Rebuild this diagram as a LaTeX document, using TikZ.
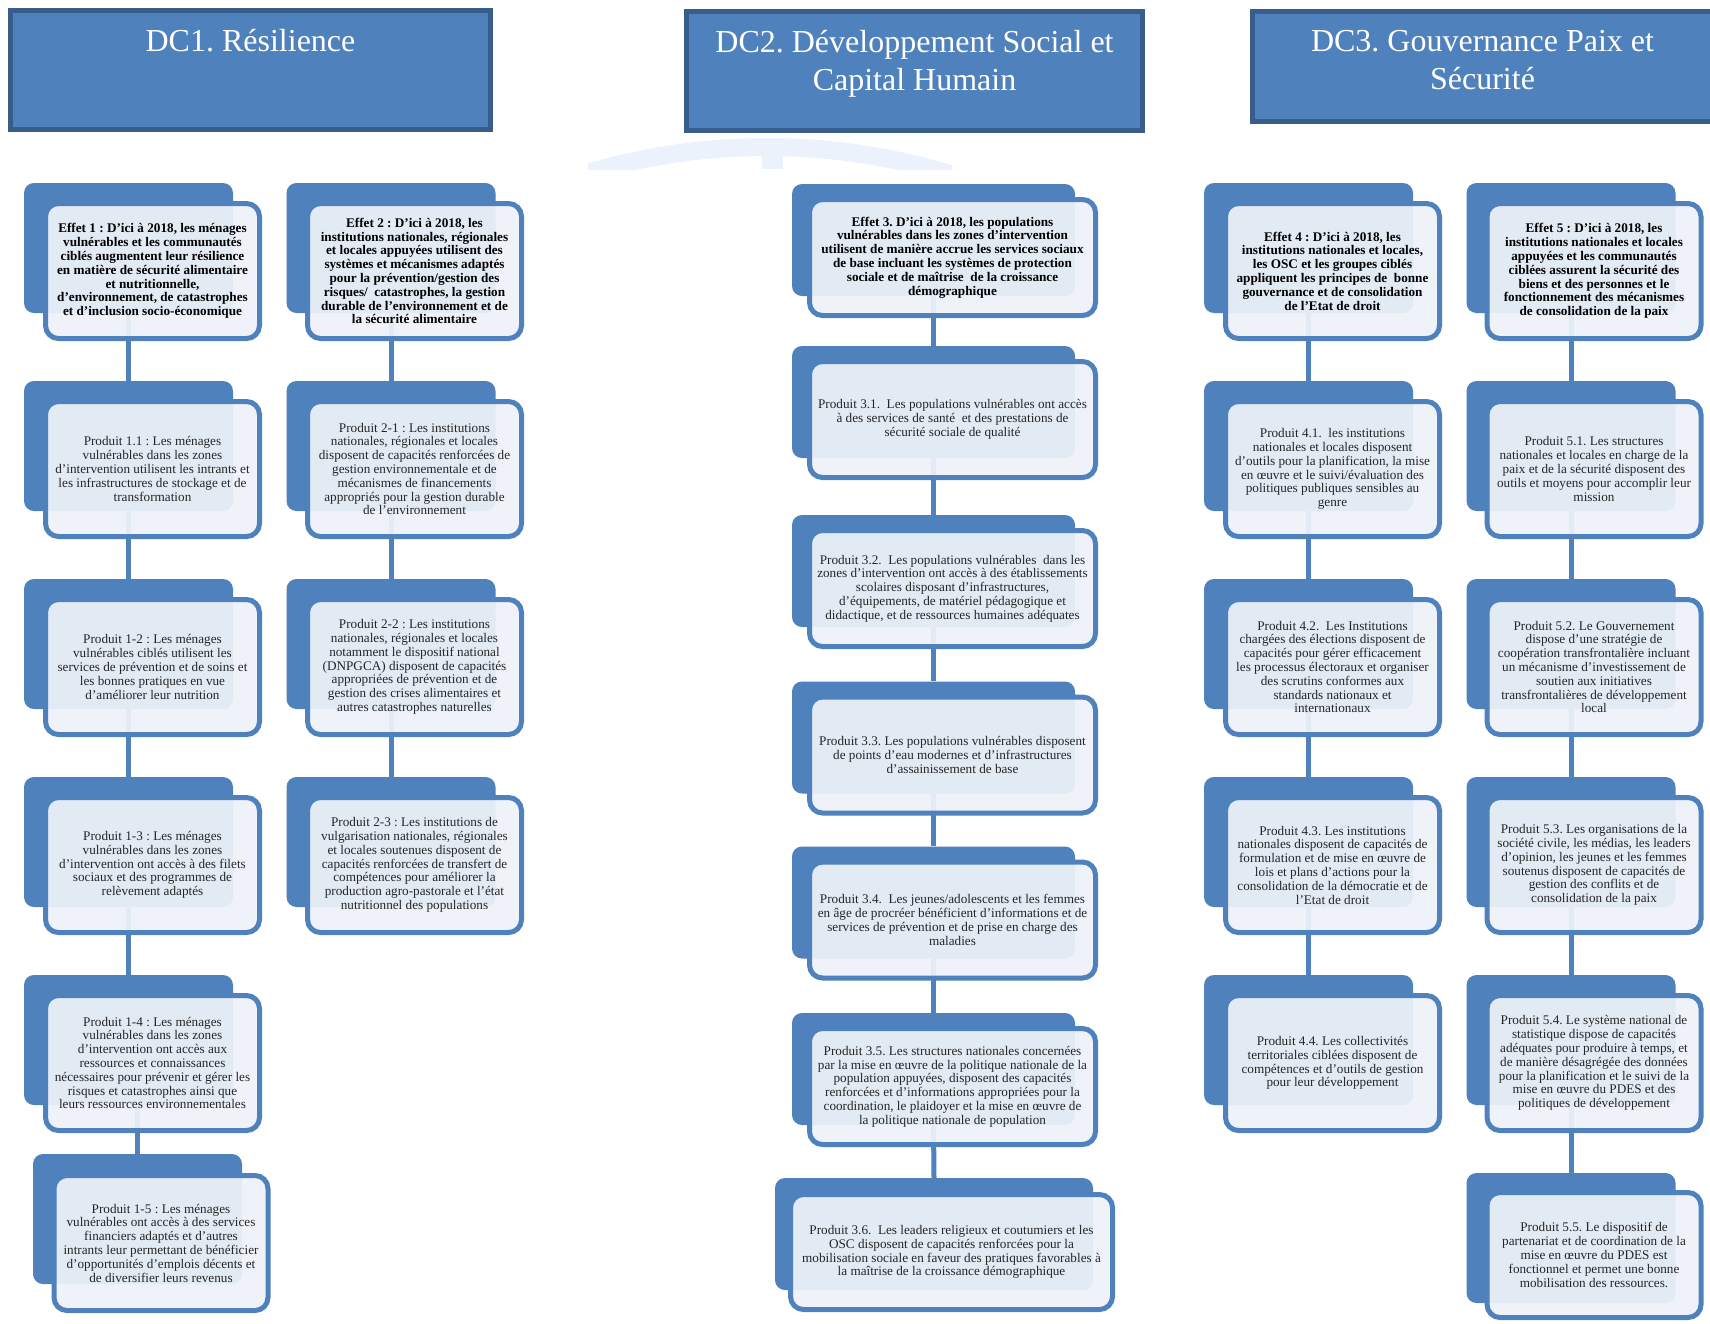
\documentclass[tikz,border=0pt]{standalone}
\usepackage{fontspec}
\setmainfont{Liberation Serif}
\usetikzlibrary{positioning}
\definecolor{boxblue}{RGB}{79,129,189}
\definecolor{headdark}{RGB}{56,93,138}
\definecolor{cardfill}{RGB}{238,242,249}
\definecolor{arcblue}{RGB}{235,242,251}
\frenchspacing

\begin{document}
\begin{tikzpicture}[x=1pt, y=-1pt,
  header/.style={draw=headdark, line width=5pt, fill=boxblue, inner sep=0pt},
  headtext/.style={text=white, align=center, inner sep=0pt, font=\fontsize{32}{38.5}\selectfont},
  tab/.style={fill=boxblue, rounded corners=10pt, inner sep=0pt},
  tabA/.style={tab, minimum width=209pt, minimum height=130pt},
  tabB/.style={tab, minimum width=283pt, minimum height=112pt},
  card/.style={draw=boxblue, line width=5pt, fill=cardfill, fill opacity=.93, text opacity=1,
    rounded corners=13pt, align=center, inner sep=2pt, text=black!85,
    font=\fontsize{13.2}{13.8}\selectfont},
  cardA/.style={card, minimum width=214pt, minimum height=135pt},
  cardB/.style={card, minimum width=286pt, minimum height=116pt},
  effet/.style={text=black, font=\fontsize{13.2}{13.8}\selectfont\bfseries},
  link/.style={draw=boxblue, line width=5pt}]

  \fill[white] (0,0) rectangle (1710,1323);
  \useasboundingbox (0,0) rectangle (1710,1323);

  % faint arc under DC2
  \begin{scope}
    \clip (588,100) rectangle (952,169);
    \draw[arcblue, line width=18pt] (767,774) circle (627pt);
    \fill[arcblue] (762,138) rectangle (783,169);
  \end{scope}

  % headers
  \node[header, minimum width=480pt, minimum height=119pt] (dc1) at (250.5,70) {};
  \node[headtext, below=21pt of dc1.north] (dc1t) {DC1. Résilience};
  \node[header, minimum width=456pt, minimum height=119pt] (dc2) at (914.5,71) {};
  \node[headtext, below=21pt of dc2.north] (dc2t) {DC2. Développement Social et\\Capital Humain};
  \node[header, minimum width=460pt, minimum height=110pt] (dc3) at (1482.5,66.5) {};
  \node[headtext, below=21pt of dc3.north] (dc3t) {DC3. Gouvernance Paix et\\Sécurité};

  % tabs
  \node[tabA] (e1t) at (128.5,248) {};
  \node[tabA] (p11t) at (128.5,446) {};
  \node[tabA] (p12t) at (128.5,644) {};
  \node[tabA] (p13t) at (128.5,842) {};
  \node[tabA] (p14t) at (128.5,1040) {};
  \node[tabA] (p15t) at (137.5,1219) {};
  \node[tabA] (e2t) at (391,248) {};
  \node[tabA] (p21t) at (391,446) {};
  \node[tabA] (p22t) at (391,644) {};
  \node[tabA] (p23t) at (391,842) {};
  \node[tabB] (e3t) at (933.5,240) {};
  \node[tabB] (p31t) at (933.5,402) {};
  \node[tabB] (p32t) at (933.5,571) {};
  \node[tabB] (p33t) at (933.5,737.5) {};
  \node[tabB] (p34t) at (933.5,902.5) {};
  \node[tabB] (p35t) at (933.5,1069) {};
  \node[tabB, minimum width=318pt] (p36t) at (934,1234) {};
  \node[tabA] (e4t) at (1308.5,248) {};
  \node[tabA] (p41t) at (1308.5,446) {};
  \node[tabA] (p42t) at (1308.5,644) {};
  \node[tabA] (p43t) at (1308.5,842) {};
  \node[tabA] (p44t) at (1308.5,1040) {};
  \node[tabA] (e5t) at (1571,248) {};
  \node[tabA] (p51t) at (1571,446) {};
  \node[tabA] (p52t) at (1571,644) {};
  \node[tabA] (p53t) at (1571,842) {};
  \node[tabA] (p54t) at (1571,1040) {};
  \node[tabA] (p55t) at (1571,1238) {};

  % links
  \draw[link] (e1t.south) -- (p11t.north);
  \draw[link] (p11t.south) -- (p12t.north);
  \draw[link] (p12t.south) -- (p13t.north);
  \draw[link] (p13t.south) -- (p14t.north);
  \draw[link] (p15t.north) -- (p15t.north |- p14t.south);
  \draw[link] (e2t.south) -- (p21t.north);
  \draw[link] (p21t.south) -- (p22t.north);
  \draw[link] (p22t.south) -- (p23t.north);
  \draw[link] (e3t.south) -- (p31t.north);
  \draw[link] (p31t.south) -- (p32t.north);
  \draw[link] (p32t.south) -- (p33t.north);
  \draw[link] (p33t.south) -- (p34t.north);
  \draw[link] (p34t.south) -- (p35t.north);
  \draw[link] (p35t.south) -- (p36t.north);
  \draw[link] (e4t.south) -- (p41t.north);
  \draw[link] (p41t.south) -- (p42t.north);
  \draw[link] (p42t.south) -- (p43t.north);
  \draw[link] (p43t.south) -- (p44t.north);
  \draw[link] (e5t.south) -- (p51t.north);
  \draw[link] (p51t.south) -- (p52t.north);
  \draw[link] (p52t.south) -- (p53t.north);
  \draw[link] (p53t.south) -- (p54t.north);
  \draw[link] (p54t.south) -- (p55t.north);

  % DC1 cards
  \node[cardA, effet] (e1) at (152.5,271) {Effet 1 : D’ici à 2018, les ménages\\vulnérables et les communautés\\ciblés augmentent leur résilience\\en matière de sécurité alimentaire\\et nutritionnelle,\\d’environnement, de catastrophes\\et d’inclusion socio-économique};
  \node[cardA] (p11) at (152.5,469) {Produit 1.1 : Les ménages\\vulnérables dans les zones\\d’intervention utilisent les intrants et\\les infrastructures de stockage et de\\transformation};
  \node[cardA] (p12) at (152.5,667) {Produit 1-2 : Les ménages\\vulnérables ciblés utilisent les\\services de prévention et de soins et\\les bonnes pratiques en vue\\d’améliorer leur nutrition};
  \node[cardA] (p13) at (152.5,865) {Produit 1-3 : Les ménages\\vulnérables dans les zones\\d’intervention ont accès à des filets\\sociaux et des programmes de\\relèvement adaptés};
  \node[cardA] (p14) at (152.5,1063) {Produit 1-4 : Les ménages\\vulnérables dans les zones\\d'intervention ont accès aux\\ressources et connaissances\\nécessaires pour prévenir et gérer les\\risques et catastrophes ainsi que\\leurs ressources environnementales};
  \node[cardA] (p15) at (161,1243) {Produit 1-5 : Les ménages\\vulnérables ont accès à des services\\financiers adaptés et d’autres\\intrants leur permettant de bénéficier\\d’opportunités d’emplois décents et\\de diversifier leurs revenus};
  \node[cardA, effet] (e2) at (414.5,271) {Effet 2 : D’ici à 2018, les\\institutions nationales, régionales\\et locales appuyées utilisent des\\systèmes et mécanismes adaptés\\pour la prévention/gestion des\\risques/~ catastrophes, la gestion\\durable de l’environnement et de\\la sécurité alimentaire};
  \node[cardA] (p21) at (414.5,469) {Produit 2-1 : Les institutions\\nationales, régionales et locales\\disposent de capacités renforcées de\\gestion environnementale et de\\mécanismes de financements\\appropriés pour la gestion durable\\de l’environnement};
  \node[cardA] (p22) at (414.5,667) {Produit 2-2 : Les institutions\\nationales, régionales et locales\\notamment le dispositif national\\(DNPGCA) disposent de capacités\\appropriées de prévention et de\\gestion des crises alimentaires et\\autres catastrophes naturelles};
  \node[cardA] (p23) at (414.5,865) {Produit 2-3 : Les institutions de\\vulgarisation nationales, régionales\\et locales soutenues disposent de\\capacités renforcées de transfert de\\compétences pour améliorer la\\production agro-pastorale et l’état\\nutritionnel des populations};

  % DC2 cards
  \node[cardB, effet] (e3) at (952.5,257.5) {Effet 3. D’ici à 2018, les populations\\vulnérables dans les zones d’intervention\\utilisent de manière accrue les services sociaux\\de base incluant les systèmes de protection\\sociale et de maîtrise~ de la croissance\\démographique};
  \node[cardB] (p31) at (952.5,419.5) {Produit 3.1.~ Les populations vulnérables ont accès\\à des services de santé~ et des prestations de\\sécurité sociale de qualité};
  \node[cardB] (p32) at (952.5,588.5) {Produit 3.2.~ Les populations vulnérables~ dans les\\zones d'intervention ont accès à des établissements\\scolaires disposant d’infrastructures,\\d’équipements, de matériel pédagogique et\\didactique, et de ressources humaines adéquates};
  \node[cardB] (p33) at (952.5,755) {Produit 3.3. Les populations vulnérables disposent\\de points d’eau modernes et d’infrastructures\\d’assainissement de base};
  \node[cardB] (p34) at (952.5,920) {Produit 3.4.~ Les jeunes/adolescents et les femmes\\en âge de procréer bénéficient d’informations et de\\services de prévention et de prise en charge des\\maladies};
  \node[cardB] (p35) at (952.5,1086.5) {Produit 3.5. Les structures nationales concernées\\par la mise en œuvre de la politique nationale de la\\population appuyées, disposent des capacités\\renforcées et d’informations appropriées pour la\\coordination, le plaidoyer et la mise en œuvre de\\la politique nationale de population};
  \node[cardB, minimum width=322pt, minimum height=115pt] (p36) at (951.5,1252) {Produit 3.6.~ Les leaders religieux et coutumiers et les\\OSC disposent de capacités renforcées pour la\\mobilisation sociale en faveur des pratiques favorables à\\la maîtrise de la croissance démographique};

  % DC3 cards
  \node[cardA, effet] (e4) at (1332.5,271) {Effet 4 : D’ici à 2018, les\\institutions nationales et locales,\\les OSC et les groupes ciblés\\appliquent les principes de~ bonne\\gouvernance et de consolidation\\de l’Etat de droit};
  \node[cardA] (p41) at (1332.5,469) {Produit 4.1.~ les institutions\\nationales et locales disposent\\d’outils pour la planification, la mise\\en œuvre et le suivi/évaluation des\\politiques publiques sensibles au\\genre};
  \node[cardA] (p42) at (1332.5,667) {Produit 4.2.~ Les Institutions\\chargées des élections disposent de\\capacités pour gérer efficacement\\les processus électoraux et organiser\\des scrutins conformes aux\\standards nationaux et\\internationaux};
  \node[cardA] (p43) at (1332.5,865) {Produit 4.3. Les institutions\\nationales disposent de capacités de\\formulation et de mise en œuvre de\\lois et plans d’actions pour la\\consolidation de la démocratie et de\\l’Etat de droit};
  \node[cardA] (p44) at (1332.5,1063) {Produit 4.4. Les collectivités\\territoriales ciblées disposent de\\compétences et d’outils de gestion\\pour leur développement};
  \node[cardA, effet] (e5) at (1594,271) {Effet 5 : D’ici à 2018, les\\institutions nationales et locales\\appuyées et les communautés\\ciblées assurent la sécurité des\\biens et des personnes et le\\fonctionnement des mécanismes\\de consolidation de la paix};
  \node[cardA] (p51) at (1594,469) {Produit 5.1. Les structures\\nationales et locales en charge de la\\paix et de la sécurité disposent des\\outils et moyens pour accomplir leur\\mission};
  \node[cardA] (p52) at (1594,667) {Produit 5.2. Le Gouvernement\\dispose d’une stratégie de\\coopération transfrontalière incluant\\un mécanisme d’investissement de\\soutien aux initiatives\\transfrontalières de développement\\local};
  \node[cardA] (p53) at (1594,865) {Produit 5.3. Les organisations de la\\société civile, les médias, les leaders\\d’opinion, les jeunes et les femmes\\soutenus disposent de capacités de\\gestion des conflits et de\\consolidation de la paix};
  \node[cardA] (p54) at (1594,1063) {Produit 5.4. Le système national de\\statistique dispose de capacités\\adéquates pour produire à temps, et\\de manière désagrégée des données\\pour la planification et le suivi de la\\mise en œuvre du PDES et des\\politiques de développement};
  \node[cardA, minimum height=125pt] (p55) at (1594,1255) {Produit 5.5. Le dispositif de\\partenariat et de coordination de la\\mise en œuvre du PDES est\\fonctionnel et permet une bonne\\mobilisation des ressources.};
\end{tikzpicture}
\end{document}
